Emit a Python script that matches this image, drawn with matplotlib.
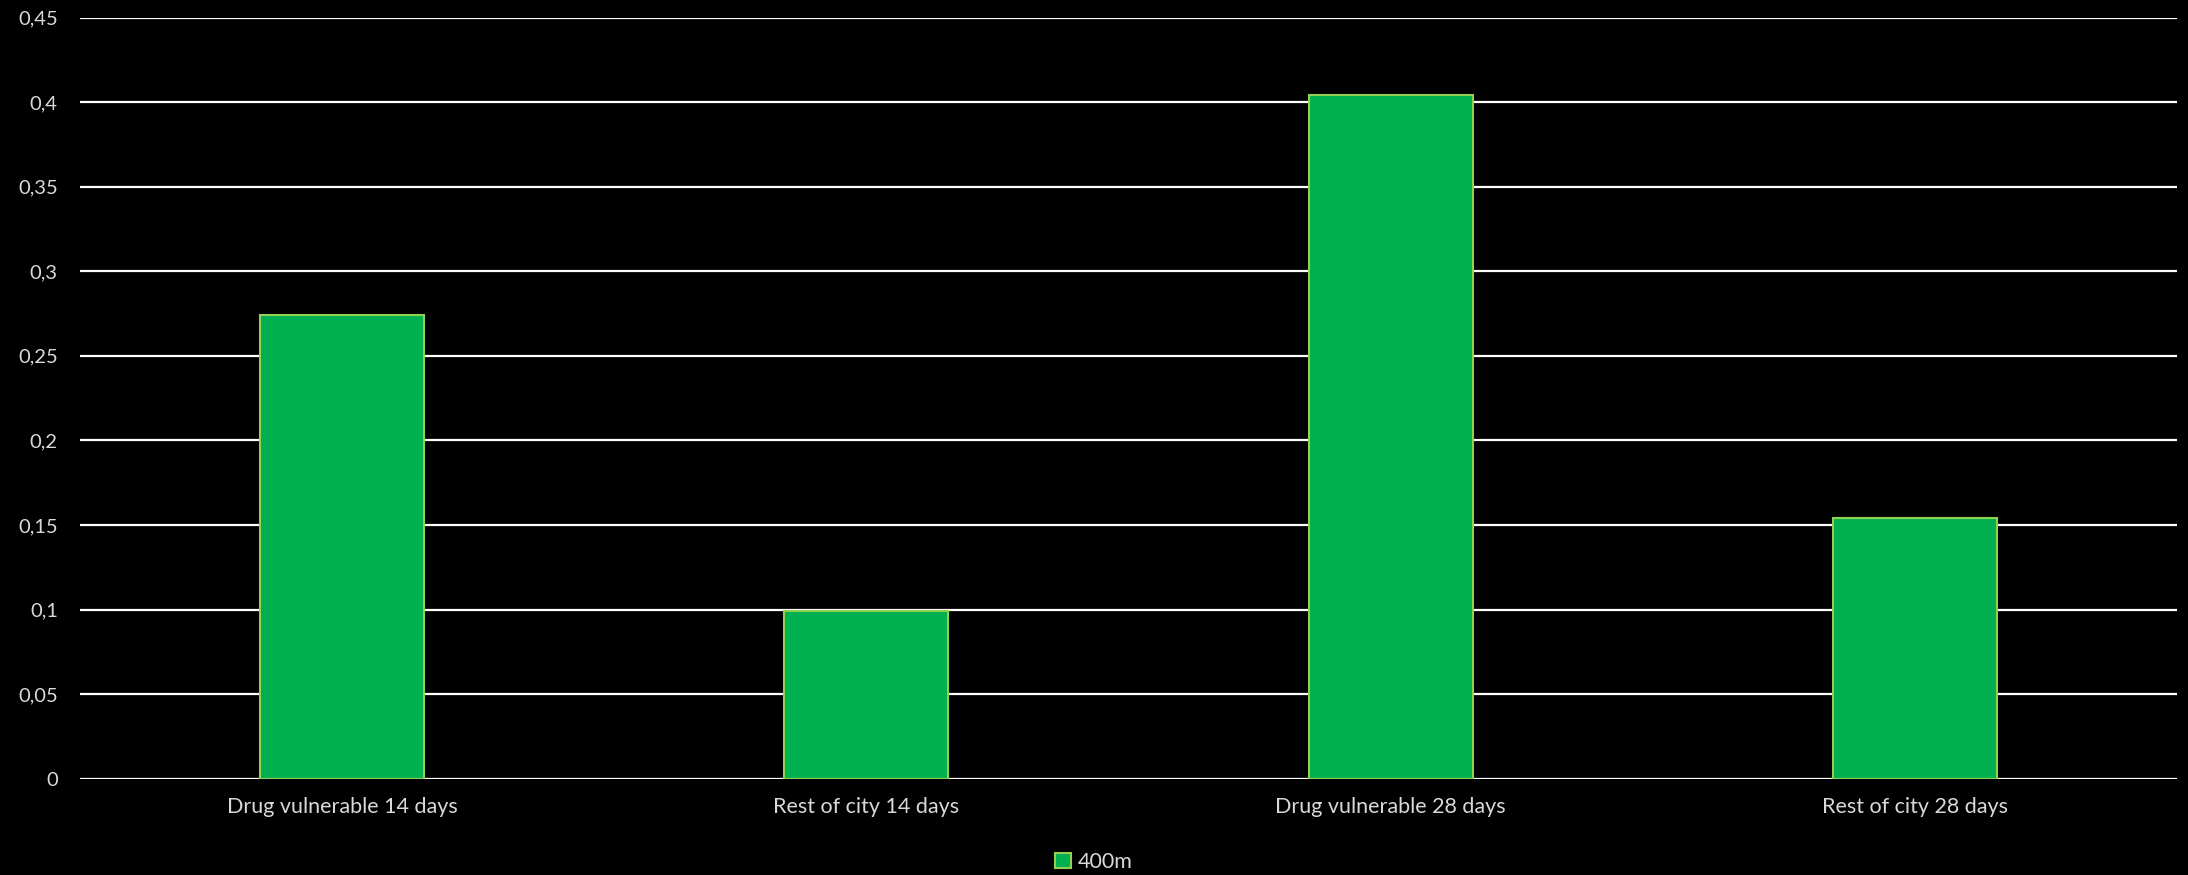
import matplotlib.pyplot as plt
from matplotlib.ticker import FuncFormatter

categories = ["Drug vulnerable 14 days", "Rest of city 14 days",
              "Drug vulnerable 28 days", "Rest of city 28 days"]
values_400m = [0.274, 0.099, 0.404, 0.154]
series_name = "400m"
y_ticks = [0, 0.05, 0.1, 0.15, 0.2, 0.25, 0.3, 0.35, 0.4, 0.45]

TEXT = "#D9D9D9"
FILL = "#00B050"
EDGE = "#92D050"

plt.rcParams['font.family'] = ['Lato', 'DejaVu Sans']

fig = plt.figure(figsize=(21.88, 8.75), dpi=100, facecolor="black")
ax = fig.add_axes([0.0366, 0.110, 0.9584, 0.870], facecolor="black")

x = range(len(categories))
ax.bar(x, values_400m, width=0.313, color=FILL, edgecolor=EDGE,
       linewidth=1.5, label=series_name, zorder=3)

ax.set_xlim(-0.5, len(categories) - 0.5)
ax.set_ylim(0, 0.45)
ax.set_yticks(y_ticks)
ax.yaxis.set_major_formatter(FuncFormatter(lambda v, p: f"{v:g}".replace(".", ",")))
ax.set_xticks(list(x))
ax.set_xticklabels(categories)

ax.grid(axis="y", color="white", linewidth=1.6, zorder=0)
ax.set_axisbelow(True)
for s in ax.spines.values():
    s.set_visible(False)
ax.tick_params(axis="both", length=0, colors=TEXT)
ax.tick_params(axis="y", pad=16, labelsize=14.5)
ax.tick_params(axis="x", pad=13, labelsize=15.5)

leg = fig.legend(loc="center", bbox_to_anchor=(0.5, 1 - 862 / 875), frameon=False,
                 fontsize=15.5, handlelength=0.75, handleheight=0.75, handletextpad=0.3)
for t in leg.get_texts():
    t.set_color(TEXT)

fig.savefig("out.png", dpi=100, facecolor="black")
